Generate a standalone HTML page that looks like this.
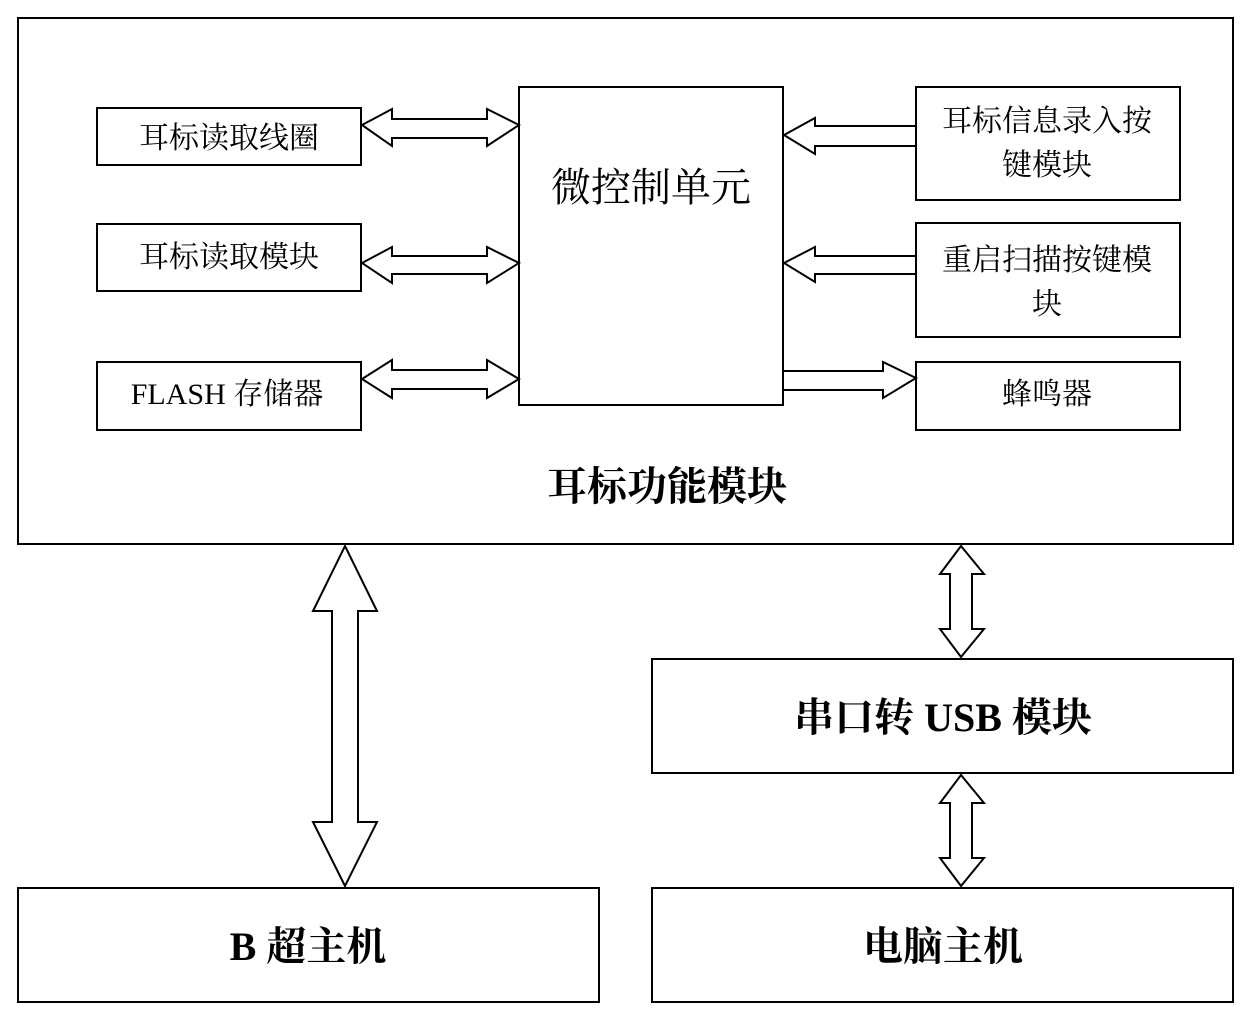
<!DOCTYPE html>
<html><head><meta charset="utf-8"><style>body{margin:0;background:#fff}</style></head><body>
<svg width="1240" height="1010" viewBox="0 0 1240 1010" xmlns="http://www.w3.org/2000/svg" font-family="Liberation Serif, Noto Serif CJK SC, serif">
<g fill="#fff" stroke="#000" stroke-width="2">
<rect x="18" y="18" width="1215" height="526"/>
<rect x="97" y="108" width="264" height="57"/>
<rect x="97" y="224" width="264" height="67"/>
<rect x="97" y="362" width="264" height="68"/>
<rect x="519" y="87" width="264" height="318"/>
<rect x="916" y="87" width="264" height="113"/>
<rect x="916" y="223" width="264" height="114"/>
<rect x="916" y="362" width="264" height="68"/>
<rect x="652" y="659" width="581" height="114"/>
<rect x="18" y="888" width="581" height="114"/>
<rect x="652" y="888" width="581" height="114"/>
<polygon points="362,125 392,109 392,119 487,119 487,109 519,125 487,146 487,138 392,138 392,146"/>
<polygon points="362,263 392,247 392,256 487,256 487,247 519,263 487,283 487,274 392,274 392,283"/>
<polygon points="362,379 392,360 392,370 487,370 487,360 519,379 487,398 487,389 392,389 392,398"/>
<polygon points="784,135 815,118 815,126 916,126 916,146 815,146 815,154"/>
<polygon points="784,263 815,247 815,256 916,256 916,274 815,274 815,282"/>
<polygon points="916,378 883,362 883,371 783,371 783,390 883,390 883,398"/>
<polygon points="345,546 377,611 358,611 358,822 377,822 345,886 313,822 332,822 332,611 313,611"/>
<polygon points="961,546 984,574 972,574 972,629 984,629 961,657 940,629 950,629 950,574 940,574"/>
<polygon points="961,775 984,803 972,803 972,858 984,858 961,886 940,858 950,858 950,803 940,803"/>
</g>
<g font-size="30" text-anchor="middle" fill="#000">
<text x="229" y="148">耳标读取线圈</text>
<text x="229" y="267">耳标读取模块</text>
<text x="227" y="404">FLASH 存储器</text>
<text x="1047" y="131">耳标信息录入按</text>
<text x="1047" y="175">键模块</text>
<text x="1047" y="270">重启扫描按键模</text>
<text x="1047" y="314">块</text>
<text x="1047" y="404">蜂鸣器</text>
<text x="651" y="201" font-size="40">微控制单元</text>
</g>
<g font-size="40" font-weight="bold" text-anchor="middle" fill="#000">
<text x="667" y="500">耳标功能模块</text>
<text x="943" y="731">串口转 USB 模块</text>
<text x="308" y="960">B 超主机</text>
<text x="943" y="960">电脑主机</text>
</g>
</svg>
</body></html>
